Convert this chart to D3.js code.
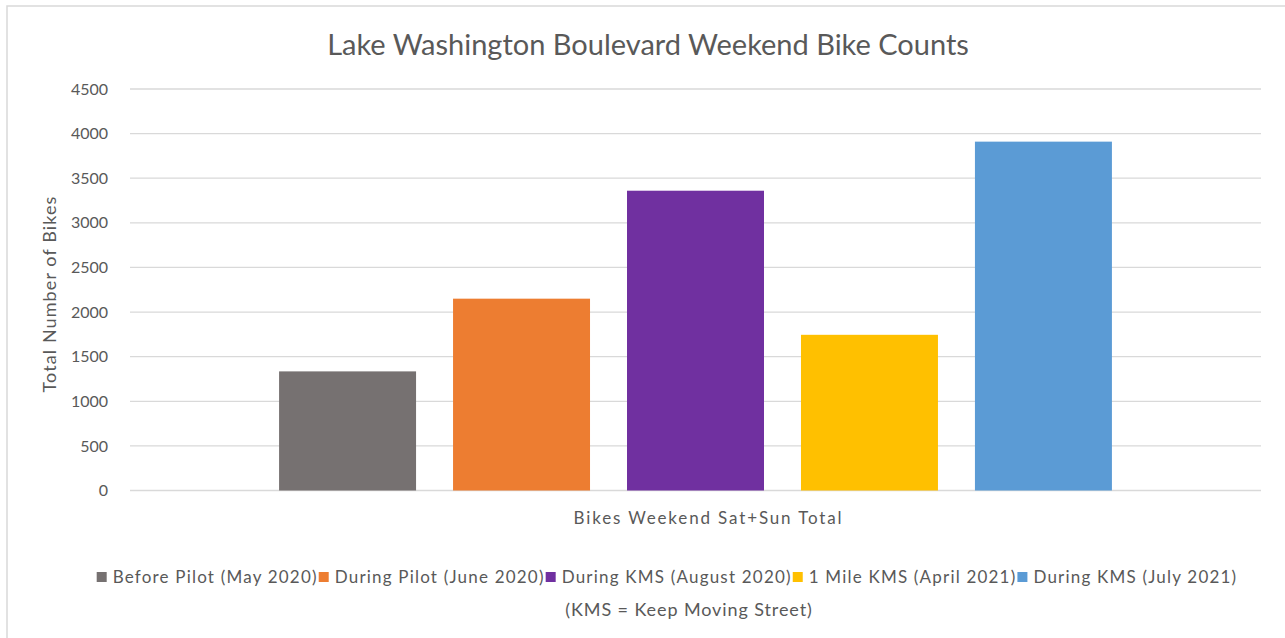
<!DOCTYPE html>
<html>
<head>
<meta charset="utf-8">
<script src="https://cdn.jsdelivr.net/npm/d3@7"></script>
<style>
  html, body { margin: 0; padding: 0; background: #fff; }
  svg { display: block; }
  text { font-family: Lato, "Open Sans", sans-serif; fill: #595959; }
</style>
</head>
<body>
<svg id="chart" width="1285" height="638"></svg>
<script>
const categories = ["Bikes Weekend Sat+Sun Total"];
const seriesNames = [
  "Before Pilot (May 2020)",
  "During Pilot (June 2020)",
  "During KMS (August 2020)",
  "1 Mile KMS (April 2021)",
  "During KMS (July 2021)"
];
const seriesValues = [1335, 2150, 3360, 1745, 3910];
const seriesColors = ["#767171", "#ED7D31", "#7030A0", "#FFC000", "#5B9BD5"];
const yTicks = [0, 500, 1000, 1500, 2000, 2500, 3000, 3500, 4000, 4500];
const titleText = "Lake Washington Boulevard Weekend Bike Counts";
const yTitle = "Total Number of Bikes";
const noteText = "(KMS = Keep Moving Street)";

const svg = d3.select("#chart");

// outer border
svg.append("rect").attr("x", 7).attr("y", 6).attr("width", 1300).attr("height", 660)
  .attr("fill", "none").attr("stroke", "#d9d9d9").attr("stroke-width", 1.5);

const plot = { left: 130, right: 1261, top: 89, bottom: 490.5 };

const y = d3.scaleLinear().domain([0, 4500]).range([plot.bottom, plot.top]);
const x0 = d3.scaleBand().domain(categories).range([plot.left, plot.right]).paddingOuter(0.179).paddingInner(0);
const x1 = d3.scaleBand().domain(seriesNames).range([0, x0.bandwidth()]).paddingInner(0.2126).paddingOuter(0);

// gridlines
svg.append("g").selectAll("line").data(yTicks).join("line")
  .attr("x1", plot.left).attr("x2", plot.right)
  .attr("y1", d => y(d)).attr("y2", d => y(d))
  .attr("stroke", "#d9d9d9").attr("stroke-width", 1.3);

// y axis labels
const yAxis = d3.axisLeft(y).tickValues(yTicks).tickFormat(d3.format("d")).tickSize(0).tickPadding(0);
const gy = svg.append("g").attr("transform", `translate(108,0)`).call(yAxis);
gy.select(".domain").remove();
gy.selectAll("text").attr("font-size", 16).attr("fill", "#595959")
  .style("font-family", "Lato, 'Open Sans', sans-serif");

// bars
const gBars = svg.append("g");
categories.forEach(cat => {
  gBars.selectAll("rect").data(seriesNames).join("rect")
    .attr("x", d => x0(cat) + x1(d))
    .attr("width", x1.bandwidth())
    .attr("y", (d, i) => y(seriesValues[i]))
    .attr("height", (d, i) => y(0) - y(seriesValues[i]))
    .attr("fill", (d, i) => seriesColors[i]);
});

// x axis category label
const xAxis = d3.axisBottom(x0).tickSize(0).tickPadding(0);
const gx = svg.append("g").attr("transform", `translate(13,${plot.bottom + 33})`).call(xAxis);
gx.select(".domain").remove();
gx.selectAll("text").attr("font-size", 17).attr("fill", "#595959")
  .attr("dy", 0).style("letter-spacing", "1.85px")
  .style("font-family", "Lato, 'Open Sans', sans-serif");

// title
svg.append("text").attr("x", 648).attr("y", 55).attr("text-anchor", "middle")
  .attr("font-size", 29).text(titleText);

// y title
svg.append("text").attr("transform", "translate(56,294) rotate(-90)")
  .attr("text-anchor", "middle").attr("font-size", 18)
  .style("letter-spacing", "1.1px").text(yTitle);

// legend
const legend = svg.append("g");
const items = legend.selectAll("g").data(seriesNames).join("g");
items.append("rect").attr("width", 10).attr("height", 10).attr("y", -11)
  .attr("fill", (d, i) => seriesColors[i]);
items.append("text").attr("x", 16).attr("font-size", 17)
  .style("letter-spacing", "1.2px").text(d => d);
let cx = 0;
items.each(function () {
  const g = d3.select(this);
  g.attr("transform", `translate(${cx},0)`);
  const w = g.select("text").node().getComputedTextLength();
  cx += 16 + w + 1;
});
const totalW = cx - 1;
legend.attr("transform", `translate(${667 - totalW / 2},583)`);

svg.append("text").attr("x", 689).attr("y", 616).attr("text-anchor", "middle")
  .attr("font-size", 18).style("letter-spacing", "0.9px").text(noteText);
</script>
</body>
</html>
